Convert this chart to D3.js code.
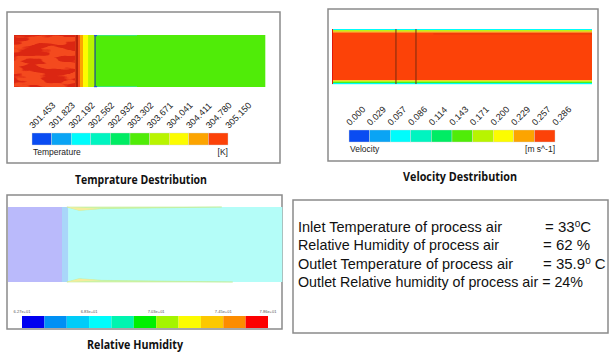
<!DOCTYPE html>
<html>
<head>
<meta charset="utf-8">
<script src="https://cdn.jsdelivr.net/npm/d3@7"></script>
<style>
  body { margin: 0; background: #fff; }
  svg { display: block; }
</style>
</head>
<body>
<script>
// chart values
var tempTicks = [301.453, 301.823, 302.192, 302.562, 302.932, 303.302, 303.671, 304.041, 304.411, 304.780, 305.150];
var tempColors = ["#0a4cf2", "#0aa4f4", "#00fcfc", "#00f4c0", "#00ec64", "#50ec08", "#b8f400", "#fcfc00", "#fca400", "#fc4208"];
var velTicks = [0.000, 0.029, 0.057, 0.086, 0.114, 0.143, 0.171, 0.200, 0.229, 0.257, 0.286];
var velColors = tempColors;
var humTickLabels = ["6.27e+01", "6.83e+01", "7.03e+01", "7.45e+01", "7.86e+01"];
var humTickIndex = [0, 3, 6, 9, 11];
var humColors = ["#0000f0", "#0090f4", "#00ccf8", "#00fcfc", "#00f4b0", "#00f000", "#a4f400", "#fcfc00", "#fcc800", "#fc8c00", "#fc0000"];

// temperature along the duct (fraction of length -> K)
var tempFieldX = [0, 0.263, 0.275, 0.295, 0.323, 1];
var tempFieldVal = [305.0, 304.6, 304.2, 303.8, 303.5];
var tempHotEnd = 0.243;
var tempLinesX = [0.25, 0.323];

// velocity across the duct (fraction of height -> m/s)
var velFieldY = [0, 0.02, 0.045, 0.065, 0.935, 0.955, 0.98, 1];
var velFieldVal = [0.07, 0.18, 0.24, 0.27, 0.21, 0.15, 0.07];
var velLinesX = [0.246, 0.323];

// humidity field zones (fraction of length)
var humFieldX = [0, 0.197, 0.22, 1];
var humFieldColor = ["#babafb", "#a9d6f9", "#b4fdf8"];

var resultLabels = ["Inlet Temperature of process air", "Relative Humidity of process air", "Outlet Temperature of process air", "Outlet Relative humidity of process air"];
var resultValues = ["= 33", "= 62 %", "= 35.9", "= 24%"];
var resultUnits = ["C", "", " C", ""];

var width = 609, height = 356;
var svg = d3.select("body").append("svg").attr("width", width).attr("height", height);

var defs = svg.append("defs");
var f = defs.append("filter").attr("id", "mottle").attr("x", 0).attr("y", 0).attr("width", 1).attr("height", 1)
  .attr("color-interpolation-filters", "sRGB");
f.append("feTurbulence").attr("type", "fractalNoise").attr("baseFrequency", "0.045 0.16").attr("numOctaves", 2).attr("seed", 11).attr("result", "n");
f.append("feColorMatrix").attr("in", "n").attr("type", "matrix")
  .attr("values", "0 0 0 0 0.86  0 0 0 0 0.15  0 0 0 0 0.07  12 0 0 0 -5.6");

function box(x, y, w, h) {
  svg.append("rect").attr("x", x).attr("y", y).attr("width", w).attr("height", h)
    .attr("fill", "none").attr("stroke", "#8a8a8a").attr("stroke-width", 1.5);
}

function title(txt, cx, y, len) {
  svg.append("text").attr("x", cx).attr("y", y).attr("text-anchor", "middle")
    .attr("font-family", "'Open Sans', 'DejaVu Sans', sans-serif").attr("font-weight", "bold")
    .attr("font-size", 11.5).attr("fill", "#111")
    .attr("textLength", len).attr("lengthAdjust", "spacingAndGlyphs").text(txt);
}

function legend(ticks, colors, x0, x1, y, name, unit) {
  var x = d3.scaleLinear().domain([0, colors.length]).range([x0, x1]);
  var g = svg.append("g");
  g.selectAll("rect").data(colors).enter().append("rect")
    .attr("x", function(d, i) { return x(i); }).attr("y", y)
    .attr("width", x(1) - x(0)).attr("height", 12)
    .attr("fill", function(d) { return d; })
    .attr("stroke", "#d8d8d8").attr("stroke-width", 0.4);
  g.selectAll("text.tick").data(ticks).enter().append("text").attr("class", "tick")
    .attr("transform", function(d, i) { return "translate(" + (x(i) + 1) + "," + (y - 4) + ") rotate(-45)"; })
    .attr("font-family", "'Liberation Sans', Arial, sans-serif").attr("font-size", 9).attr("fill", "#222")
    .text(function(d) { return d3.format(".3f")(d); });
  g.append("text").attr("x", x0 + 1).attr("y", y + 22).attr("font-family", "'Liberation Sans', Arial, sans-serif")
    .attr("font-size", 8.5).attr("fill", "#222").text(name);
  g.append("text").attr("x", x1).attr("y", y + 22).attr("text-anchor", "end").attr("font-family", "'Liberation Sans', Arial, sans-serif")
    .attr("font-size", 8.5).attr("fill", "#222").text(unit);
}

// ---------- Temperature panel ----------
box(7, 12, 273, 151);
var tx = d3.scaleLinear().domain([0, 1]).range([14, 265]);
var tColor = d3.scaleThreshold().domain(tempTicks.slice(1, -1)).range(tempColors);
var tg = svg.append("g");
tg.selectAll("rect").data(tempFieldVal).enter().append("rect")
  .attr("x", function(d, i) { return tx(tempFieldX[i]); })
  .attr("width", function(d, i) { return tx(tempFieldX[i + 1]) - tx(tempFieldX[i]) + 0.3; })
  .attr("y", 35).attr("height", 52)
  .attr("fill", function(d) { return d > 304.78 ? "#f44a1e" : tColor(d); });
// mottled hot zone
tg.append("rect").attr("x", tx(0)).attr("y", 35).attr("width", tx(tempHotEnd) - tx(0)).attr("height", 52)
  .attr("filter", "url(#mottle)");
tg.selectAll("line").data(tempLinesX).enter().append("line")
  .attr("x1", function(d) { return tx(d); }).attr("x2", function(d) { return tx(d); })
  .attr("y1", 35).attr("y2", 87)
  .attr("stroke", function(d, i) { return i === 0 ? "#b8200c" : "#2a6878"; })
  .attr("stroke-width", function(d, i) { return i === 0 ? 2.5 : 1.5; });
// cold fringes at top/bottom downstream
[35, 86].forEach(function(y) {
  tg.append("rect").attr("x", tx(tempLinesX[1]) - 1).attr("y", y).attr("width", 3).attr("height", 1.2).attr("fill", "#2050e0");
  tg.append("rect").attr("x", tx(tempLinesX[1]) + 2).attr("y", y).attr("width", 40).attr("height", 1).attr("fill", "#30e8a0").attr("opacity", 0.7);
});
legend(tempTicks, tempColors, 32, 228, 133, "Temperature", "[K]");
title("Temprature Destribution", 141, 184, 132);

// ---------- Velocity panel ----------
box(328, 9, 270, 152);
var vx = d3.scaleLinear().domain([0, 1]).range([332, 592]);
var vy = d3.scaleLinear().domain([0, 1]).range([29, 84]);
var vColor = d3.scaleThreshold().domain(velTicks.slice(1, -1)).range(velColors);
var vg = svg.append("g");
vg.selectAll("rect").data(velFieldVal).enter().append("rect")
  .attr("x", vx(0)).attr("width", vx(1) - vx(0))
  .attr("y", function(d, i) { return vy(velFieldY[i]); })
  .attr("height", function(d, i) { return vy(velFieldY[i + 1]) - vy(velFieldY[i]) + 0.2; })
  .attr("fill", function(d) { return vColor(d); });
vg.append("line").attr("x1", vx(0) + 0.5).attr("x2", vx(0) + 0.5).attr("y1", vy(0)).attr("y2", vy(1))
  .attr("stroke", "#e01808").attr("stroke-width", 1);
vg.append("line").attr("x1", vx(0.39)).attr("x2", vx(1)).attr("y1", vy(0.09)).attr("y2", vy(0.09))
  .attr("stroke", "#e8380a").attr("stroke-width", 1);
vg.selectAll("line.sec").data(velLinesX).enter().append("line").attr("class", "sec")
  .attr("x1", function(d) { return vx(d); }).attr("x2", function(d) { return vx(d); })
  .attr("y1", vy(0)).attr("y2", vy(1))
  .attr("stroke", "#7a2a10").attr("stroke-width", 1);
legend(velTicks, velColors, 349, 555, 130, "Velocity", "[m s^-1]");
title("Velocity Destribution", 460, 181, 114);

// ---------- Relative humidity panel ----------
box(7, 195, 275, 134);
var hx = d3.scaleLinear().domain([0, 1]).range([8, 282]);
var hy = d3.scaleLinear().domain([0, 1]).range([207, 282]);
var hg = svg.append("g");
hg.selectAll("rect").data(humFieldColor).enter().append("rect")
  .attr("x", function(d, i) { return hx(humFieldX[i]); })
  .attr("width", function(d, i) { return hx(humFieldX[i + 1]) - hx(humFieldX[i]) + 0.3; })
  .attr("y", hy(0)).attr("height", hy(1) - hy(0))
  .attr("fill", function(d) { return d; });
// wall wedges at top and bottom after the wheel
var wedge = d3.line().x(function(d) { return hx(d[0]); }).y(function(d) { return hy(d[1]); });
var wedgeTop = [[0.215, 0], [0.26, 0.045], [0.34, 0.022], [0.78, 0], [0.215, 0]];
var wedgeBot = wedgeTop.map(function(p) { return [p[0] === 0.78 ? 0.82 : p[0], 1 - p[1]]; });
[wedgeTop, wedgeBot].forEach(function(w) {
  hg.append("path").attr("d", wedge(w)).attr("fill", "#d2f4a8").attr("stroke", "#bfee98").attr("stroke-width", 0.6);
  hg.append("path").attr("d", wedge(w.slice(0, 3).concat([w[0]]))).attr("fill", "#f4ec9c");
});
var hl = d3.scaleLinear().domain([0, humColors.length]).range([22, 268]);
hg.selectAll("rect.leg").data(humColors).enter().append("rect").attr("class", "leg")
  .attr("x", function(d, i) { return hl(i); }).attr("y", 316)
  .attr("width", hl(1) - hl(0)).attr("height", 12)
  .attr("fill", function(d) { return d; });
hg.selectAll("text").data(humTickLabels).enter().append("text")
  .attr("x", function(d, i) { return hl(humTickIndex[i]); }).attr("y", 313)
  .attr("text-anchor", "middle").attr("font-family", "'Liberation Sans', Arial, sans-serif")
  .attr("font-size", 4).attr("fill", "#555").text(function(d) { return d; });
title("Relative Humidity", 135, 349, 96);

// ---------- Results box ----------
box(293, 200, 315, 133);
var ry = d3.scalePoint().domain(d3.range(resultLabels.length)).range([232, 287]);
var labelLen = [204, 201, 215, 0];
var valueX = [545, 543, 543, 0];
var rg = svg.append("g").attr("font-family", "'Liberation Sans Narrow', 'Liberation Sans', Arial, sans-serif")
  .attr("font-size", 15).attr("fill", "#111");
resultLabels.forEach(function(lab, i) {
  if (i === 3) {
    rg.append("text").attr("x", 298).attr("y", ry(i)).attr("textLength", 285).attr("lengthAdjust", "spacingAndGlyphs")
      .text(lab + " " + resultValues[i]);
    return;
  }
  rg.append("text").attr("x", 298).attr("y", ry(i)).attr("textLength", labelLen[i]).attr("lengthAdjust", "spacingAndGlyphs").text(lab);
  var t = rg.append("text").attr("x", valueX[i]).attr("y", ry(i));
  t.append("tspan").text(resultValues[i]);
  if (resultUnits[i] !== "") {
    t.append("tspan").attr("dy", -5).attr("font-size", 10).text("o");
    t.append("tspan").attr("dy", 5).text(resultUnits[i]);
  }
});
</script>
</body>
</html>
